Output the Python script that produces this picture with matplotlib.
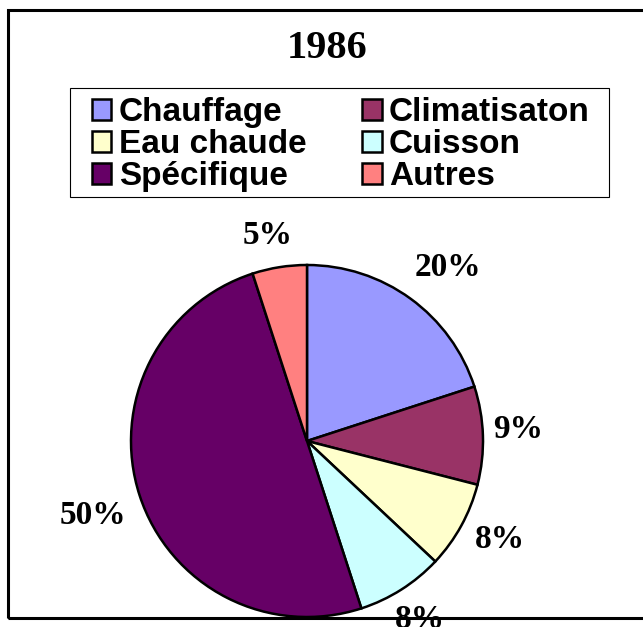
import matplotlib
matplotlib.use("Agg")
import matplotlib.pyplot as plt
import numpy as np
from matplotlib.patches import Rectangle

# Data
title = "1986"
categories = ["Chauffage", "Climatisaton", "Eau chaude", "Cuisson", "Spécifique", "Autres"]
shares = [20, 9, 8, 8, 50, 5]
colors = ["#9999FF", "#993366", "#FFFFCC", "#CCFFFF", "#660066", "#FF8080"]
# where each percentage label sits: distance (pie radii) and angle nudge (deg)
label_dist = [1.27, 1.2, 1.23, 1.2, 1.29, 1.19]
label_nudge = [-3.2, 1.2, 1.6, 0.0, 1.2, 1.8]

W, H = 643, 627
fig = plt.figure(figsize=(W / 100, H / 100), dpi=100)
fig.patch.set_facecolor("white")

# chart area border (right side runs off the image)
fig.patches.append(Rectangle((8 / W, (H - 618) / H), 1.0, (618 - 10) / H,
                             transform=fig.transFigure, fill=False,
                             edgecolor="black", linewidth=2.2, zorder=0))

fig.text(327 / W, 1 - 48 / H, title, ha="center", va="center",
         family="Liberation Serif", fontweight="bold", fontsize=29)

# pie
cx, cy, r = 307, 441, 176
ax = fig.add_axes([(cx - r) / W, (H - cy - r) / H, 2 * r / W, 2 * r / H])
wedges, _, autotexts = ax.pie(
    shares, colors=colors, startangle=90, counterclock=False,
    autopct="%1.0f%%", pctdistance=1.23,
    wedgeprops=dict(edgecolor="black", linewidth=1.8),
    textprops=dict(family="Liberation Serif", fontweight="bold", fontsize=24),
)
for w, t, d, nudge in zip(wedges, autotexts, label_dist, label_nudge):
    mid = np.deg2rad((w.theta1 + w.theta2) / 2 + nudge)
    t.set_position((d * np.cos(mid), d * np.sin(mid)))
ax.set_xlim(-1, 1)
ax.set_ylim(-1, 1)
ax.set_aspect("equal")
ax.axis("off")

# legend box
fig.patches.append(Rectangle((70 / W, 1 - 197 / H), (609 - 70) / W, (197 - 88) / H,
                             transform=fig.transFigure, facecolor="white",
                             edgecolor="black", linewidth=0.8, zorder=1))

# legend: 2 columns, row-major order
order = [0, 2, 4, 1, 3, 5]
leg = fig.legend([wedges[i] for i in order], [categories[i] for i in order],
                 ncol=2, loc="upper left", bbox_to_anchor=(92 / W, 1 - 97 / H),
                 prop=dict(family="Liberation Sans", weight="bold", size=24),
                 frameon=False,
                 handlelength=0.58, handleheight=0.58, handletextpad=0.22,
                 labelspacing=0.03, columnspacing=1.68, borderpad=0,
                 borderaxespad=0)
leg.set_zorder(2)
for h in leg.legend_handles:
    h.set_linewidth(1.8)

fig.savefig("out.png", dpi=100)
